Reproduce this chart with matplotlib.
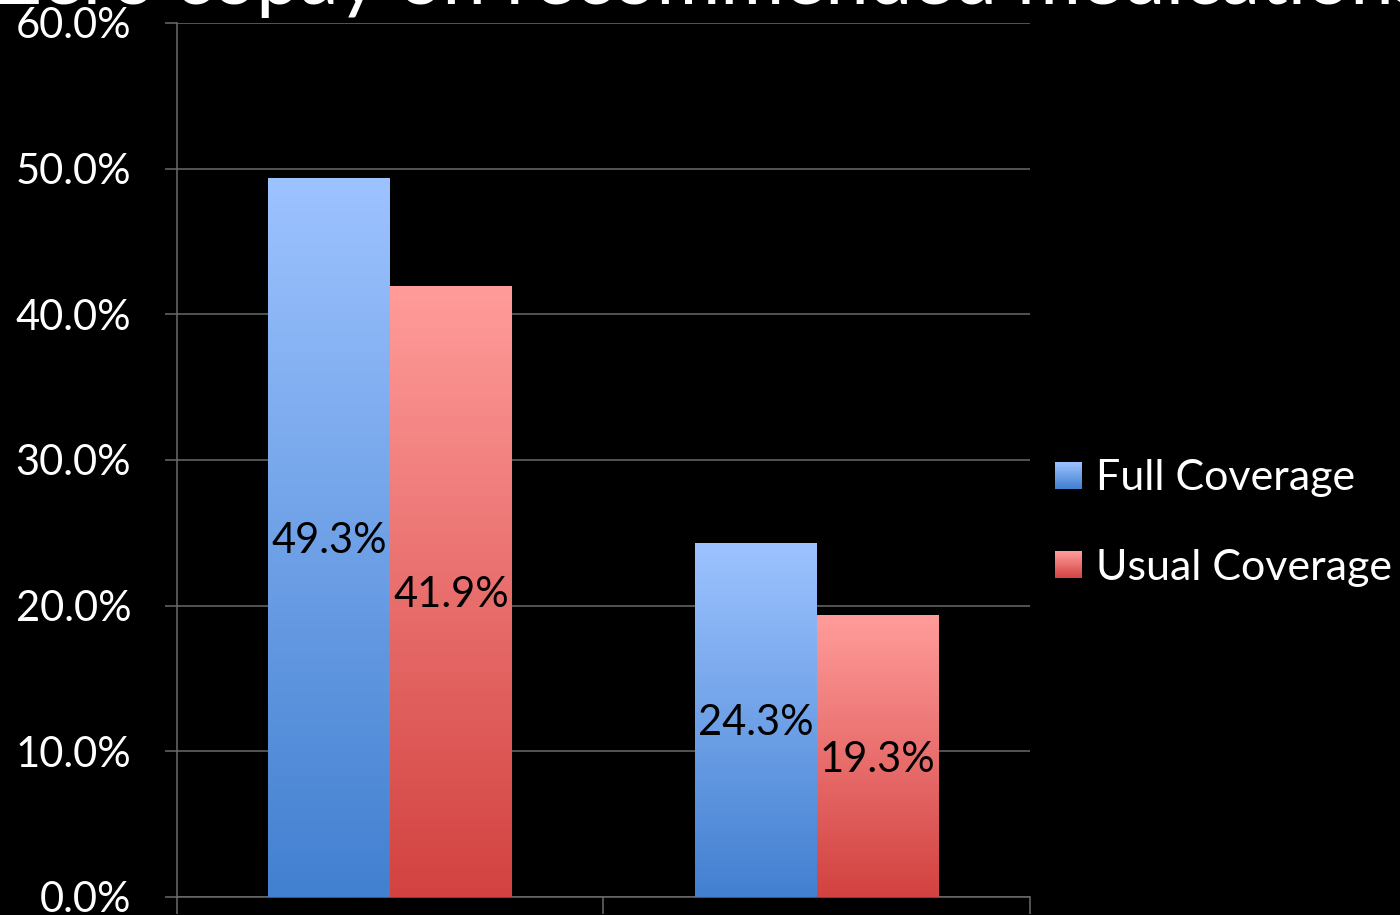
import numpy as np
import matplotlib
matplotlib.use("Agg")
import matplotlib.pyplot as plt
from matplotlib.colors import LinearSegmentedColormap, to_rgb
from matplotlib.patches import Rectangle
from matplotlib.legend_handler import HandlerBase

plt.rcParams['font.family'] = ['Lato', 'DejaVu Sans']

# данные
groups = ["Group A", "Group B"]
series = ["Full Coverage", "Usual Coverage"]
full_cov = [49.3, 24.3]
usual_cov = [41.9, 19.3]
title = "Zero copay on recommended medications"

# цвета градиента: (верх, низ)
grad_colors = {
    "Full Coverage": ("#9DC3FF", "#4280D0"),
    "Usual Coverage": ("#FF9C9A", "#D24240"),
}


class GradientHandler(HandlerBase):
    """Квадрат легенды с вертикальным градиентом."""

    def __init__(self, top, bottom, side=19.5, steps=30):
        super().__init__()
        self.top = np.array(to_rgb(top))
        self.bottom = np.array(to_rgb(bottom))
        self.side = side
        self.steps = steps

    def create_artists(self, legend, orig_handle, xdescent, ydescent,
                       width, height, fontsize, trans):
        side = self.side
        x0 = -xdescent
        y0 = -ydescent + (height - side) / 2
        artists = []
        for k in range(self.steps):
            t = k / (self.steps - 1)
            col = self.bottom * (1 - t) + self.top * t
            r = Rectangle((x0, y0 + side * k / self.steps), side,
                          side / self.steps * 1.05, facecolor=col,
                          edgecolor='none', transform=trans)
            artists.append(r)
        return artists


fig = plt.figure(figsize=(14, 9.15), dpi=100, facecolor='black')
ax = fig.add_axes([0.1264, 0.0197, 0.6093, 0.9552])
ax.set_facecolor('black')

bar_w = 1 / 3.5
x = np.arange(len(groups)) + 0.5
handles = []
for i, (name, vals) in enumerate(zip(series, [full_cov, usual_cov])):
    top, bottom = grad_colors[name]
    cmap = LinearSegmentedColormap.from_list(name, [bottom, top])
    offset = (i - 0.5) * bar_w
    bars = ax.bar(x + offset, vals, bar_w, color='none', edgecolor='none',
                  zorder=3, label=name)
    for b, v in zip(bars, vals):
        x0 = b.get_x()
        grad = np.linspace(0, 1, 256).reshape(-1, 1)
        ax.imshow(grad, cmap=cmap, origin='lower', aspect='auto',
                  extent=[x0, x0 + bar_w, 0, v], zorder=3,
                  interpolation='bilinear')
        ax.text(x0 + bar_w / 2, v / 2, f"{v:.1f}%", ha='center',
                va='center_baseline', fontsize=30, color='black', zorder=4)
    handles.append(Rectangle((0, 0), 1, 1, label=name))

ax.set_xlim(0, 2)
ax.set_ylim(0, 60)
ax.set_yticks(np.arange(0, 61, 10))
ax.set_yticklabels([f"{t:.1f}%" for t in np.arange(0, 61, 10)])
ax.set_xticks([0, 1, 2])
ax.set_xticklabels([])

grid_col = '#6A6A6A'
ax.yaxis.grid(True, color=grid_col, linewidth=1.1, zorder=1)
ax.set_axisbelow(True)
for side in ['top', 'right']:
    ax.spines[side].set_visible(False)
for side in ['left', 'bottom']:
    ax.spines[side].set_color(grid_col)
    ax.spines[side].set_linewidth(1.1)
ax.tick_params(axis='y', colors=grid_col, labelcolor='white', labelsize=30,
               length=9, width=1.1, pad=24)
ax.tick_params(axis='x', colors=grid_col, length=12, width=1.1)

leg = fig.legend(handles=handles, loc='center left',
                 bbox_to_anchor=(1055 / 1400, 1 - 523 / 915),
                 frameon=False, fontsize=31, labelcolor='white',
                 handlelength=0.65, handleheight=0.7, handletextpad=0.3,
                 labelspacing=1.2, borderpad=0, borderaxespad=0,
                 handler_map={h: GradientHandler(*grad_colors[h.get_label()])
                              for h in handles})

# заголовок, частично уходящий за верхний край
fig.text(0.508, 1 - 4 / 915, title, ha='center', va='baseline',
         fontsize=56, color='white')

fig.savefig("out.png", dpi=100, facecolor='black')
